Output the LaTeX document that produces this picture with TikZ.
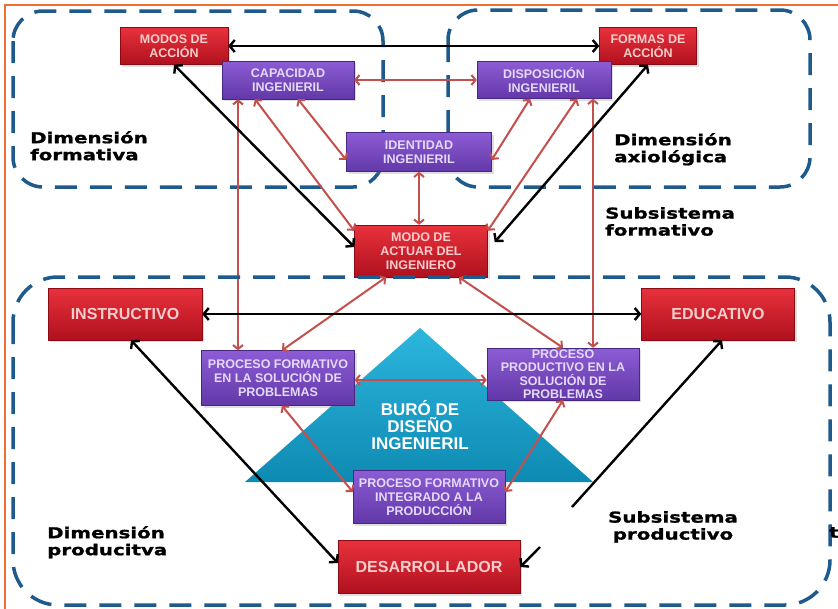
\documentclass[tikz,border=0pt]{standalone}
\usepackage{fontspec}
\setmainfont{Liberation Sans}
\newfontfamily\lblfont[FakeStretch=1.32,BoldFeatures={FakeBold=1.2}]{DejaVu Sans}
\usetikzlibrary{arrows.meta,shadows}
\definecolor{boxredtop}{RGB}{232,50,60}
\definecolor{boxredbot}{RGB}{176,16,30}
\definecolor{boxredline}{RGB}{140,10,20}
\definecolor{boxpurtop}{RGB}{140,92,212}
\definecolor{boxpurbot}{RGB}{98,56,168}
\definecolor{boxpurline}{RGB}{70,40,130}
\definecolor{txtred}{RGB}{250,205,205}
\definecolor{txtpur}{RGB}{228,218,248}
\definecolor{arrowred}{RGB}{196,80,77}
\definecolor{dimblue}{RGB}{30,90,140}
\definecolor{frameorange}{RGB}{240,110,50}
\definecolor{tritop}{RGB}{44,182,222}
\definecolor{tribot}{RGB}{14,138,178}

\begin{document}
\begin{tikzpicture}[x=1pt,y=-1pt,
    redbox/.style={draw=boxredline,line width=0.4pt,top color=boxredtop,bottom color=boxredbot,
      text=txtred,font=\bfseries\fontsize{12.5}{14}\selectfont,align=center,inner sep=1pt,
      drop shadow={opacity=0.25,shadow xshift=2pt,shadow yshift=-2pt}},
    bigred/.style={redbox,font=\bfseries\fontsize{16}{18}\selectfont},
    purplebox/.style={redbox,draw=boxpurline,top color=boxpurtop,bottom color=boxpurbot,text=txtpur},
    dimbox/.style={draw=dimblue,line width=3.5pt,dash pattern=on 22pt off 13pt,rounded corners=30pt},
    dimlabel/.style={font=\lblfont\bfseries\fontsize{15}{17}\selectfont,align=left,anchor=north west,inner sep=0pt},
    blkarrow/.style={line width=2.4pt,{Straight Barb[length=5pt,width=12pt]}-{Straight Barb[length=5pt,width=12pt]}},
    blkhead/.style={line width=2.4pt,-{Straight Barb[length=5pt,width=12pt]}},
    redarrow/.style={draw=arrowred,line width=2pt,{Straight Barb[length=4pt,width=10pt]}-{Straight Barb[length=4pt,width=10pt]}}]
    \useasboundingbox (0,0) rectangle (838,608);
    \fill[white] (0,0) rectangle (838,608);
    \draw[frameorange,line width=2pt] (5,615) -- (5,5) -- (845,5);
    \draw[dimbox] (13,11) rectangle (383,187);
    \draw[dimbox] (448,10) rectangle (810,187);
    \shade[top color=tritop,bottom color=tribot] (420,328) -- (593,482) -- (245,482) -- cycle;
    \node[text=white,font=\bfseries\fontsize{17}{17}\selectfont,align=center] (buro) at (420,425) {BURÓ DE\\DISEÑO\\INGENIERIL};

    \node[redbox,minimum width=108pt,minimum height=37pt] (modos) at (174,46) {MODOS DE\\ACCIÓN};
    \node[redbox,minimum width=97pt,minimum height=37pt] (formas) at (648,46) {FORMAS DE\\ACCIÓN};
    \node[purplebox,minimum width=132pt,minimum height=38pt] (cap) at (288,80) {CAPACIDAD\\INGENIERIL};
    \node[purplebox,minimum width=134pt,minimum height=37pt] (disp) at (544,80) {DISPOSICIÓN\\INGENIERIL};
    \node[purplebox,minimum width=145pt,minimum height=39pt] (iden) at (419,152) {IDENTIDAD\\INGENIERIL};
    \node[redbox,minimum width=133pt,minimum height=52pt] (modo) at (421,251) {MODO DE\\ACTUAR DEL\\INGENIERO};
    \node[bigred,minimum width=154pt,minimum height=52pt] (instr) at (125,314) {INSTRUCTIVO};
    \node[bigred,minimum width=153pt,minimum height=52pt] (educ) at (718,314) {EDUCATIVO};
    \node[purplebox,minimum width=153pt,minimum height=55pt] (pfs) at (278,378) {PROCESO FORMATIVO\\EN LA SOLUCIÓN DE\\PROBLEMAS};
    \node[purplebox,minimum width=152pt,minimum height=52pt,inner sep=0pt,font=\bfseries\fontsize{12.5}{13.5}\selectfont] (pps) at (563,374) {PROCESO\\PRODUCTIVO EN LA\\SOLUCIÓN DE\\PROBLEMAS};
    \node[purplebox,minimum width=152pt,minimum height=53pt] (pfi) at (429,497) {PROCESO FORMATIVO\\INTEGRADO A LA\\PRODUCCIÓN};
    \node[bigred,minimum width=182pt,minimum height=53pt] (desa) at (429,567) {DESARROLLADOR};

    \draw[redarrow] (cap.east) -- (disp.west);
    \draw[redarrow] ([xshift=10pt]cap.south) -- ([yshift=-8pt]iden.west);
    \draw[redarrow] ([xshift=-14pt]disp.south) -- ([yshift=-8pt]iden.east);
    \draw[redarrow] (iden.south) -- (modo.north -| iden.south);
    \draw[redarrow] ([xshift=-33pt]cap.south) -- ([yshift=-6pt]modo.north west);
    \draw[redarrow] ([xshift=33pt]disp.south) -- ([yshift=-6pt]modo.north east);
    \draw[redarrow] ([xshift=49pt]disp.south) -- ([xshift=30pt]pps.north);
    \draw[redarrow] ([xshift=-50pt]cap.south) -- ([xshift=-40pt]pfs.north);
    \draw[redarrow] ([xshift=-35pt]modo.south) -- ([xshift=4pt]pfs.north);
    \draw[redarrow] ([xshift=38pt]modo.south) -- (pps.north);
    \draw[redarrow] ([yshift=-2pt]pfs.east) -- ([yshift=-2pt]pfs.east -| pps.west);
    \draw[redarrow] ([xshift=4pt]pfs.south) -- ([yshift=5pt]pfi.west);
    \draw[redarrow] (pps.south) -- ([yshift=5pt]pfi.east);

    \draw[blkarrow] (modos.east) -- (formas.west);
    \draw[blkarrow] (modos.south) -- ([yshift=4pt]modo.west);
    \draw[blkarrow] (formas.south) -- ([yshift=9pt,xshift=7pt]modo.east);
    \draw[blkarrow] (instr.east) -- (educ.west);
    \draw[blkarrow] ([xshift=6pt]instr.south) -- ([yshift=4pt]desa.west);
    \coordinate (educfoot) at (572,507);
    \coordinate (desatip) at (540,547);
    \draw[blkhead] (educfoot) -- ([xshift=4pt]educ.south);
    \draw[blkhead] (desatip) -- (desa.east);

    \draw[dimbox,rounded corners=45pt] (13,277) rectangle (830,605);

    \node[dimlabel] (formlbl) at (30,131) {Dimensión\\formativa};
    \node[dimlabel] (axlbl) at (614,133) {Dimensión\\axiológica};
    \node[dimlabel] (subformlbl) at (605,207) {Subsistema\\formativo};
    \node[dimlabel] (prodlbl) at (47,526) {Dimensión\\producitva};
    \node[dimlabel,align=center,anchor=north] (subprodlbl) at (673,511) {Subsistema\\productivo};
    \node[dimlabel] (cutlbl) at (829,527) {t};
\end{tikzpicture}
\end{document}
